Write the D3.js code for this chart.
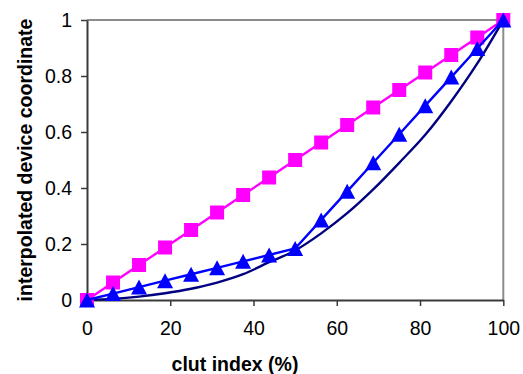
<!DOCTYPE html>
<html><head><meta charset="utf-8">
<script src="https://cdn.jsdelivr.net/npm/d3@7"></script>
<style>
html,body{margin:0;padding:0;background:#fff;}
svg text{font-family:"Liberation Sans",Arial,sans-serif;}
</style></head>
<body>
<svg id="chart" width="523" height="374"></svg>
<script>
// ---- data ----
const xValues = [0, 6.25, 12.5, 18.75, 25, 31.25, 37.5, 43.75, 50, 56.25, 62.5, 68.75, 75, 81.25, 87.5, 93.75, 100];
const linearSeries = [0, 0.0625, 0.125, 0.1875, 0.25, 0.3125, 0.375, 0.4375, 0.5, 0.5625, 0.625, 0.6875, 0.75, 0.8125, 0.875, 0.9375, 1];
const interpSeries = [0, 0.023, 0.046, 0.069, 0.092, 0.115, 0.138, 0.161, 0.184, 0.286, 0.388, 0.49, 0.592, 0.694, 0.796, 0.898, 1];
const curveSeries = [0, 0.004, 0.012, 0.024, 0.04, 0.062, 0.092, 0.135, 0.177, 0.238, 0.31, 0.395, 0.49, 0.59, 0.71, 0.845, 1];
const xTicks = [0, 20, 40, 60, 80, 100];
const yTicks = [0, 0.2, 0.4, 0.6, 0.8, 1];
const yTickLabels = ["0", "0.2", "0.4", "0.6", "0.8", "1"];
const xTitle = "clut index (%)";
const yTitle = "interpolated device coordinate";

// ---- chart ----
(function () {
const svg = d3.select("#chart");
const pL = 87, pR = 503.3, pT = 20, pB = 300;
const x = d3.scaleLinear().domain([0, 100]).range([pL, pR]);
const y = d3.scaleLinear().domain([0, 1]).range([pB, pT]);

// plot frame (top & right in gray)
svg.append("path")
  .attr("d", `M${pL},${pT}H${pR}V${pB}`)
  .attr("fill", "none").attr("stroke", "#8c8c8c").attr("stroke-width", 2);

// axes
const xAxis = svg.append("g").attr("transform", `translate(0,${pB})`)
  .call(d3.axisBottom(x).tickValues(xTicks).tickSize(6).tickSizeOuter(0).tickPadding(15));
const yAxis = svg.append("g").attr("transform", `translate(${pL},0)`)
  .call(d3.axisLeft(y).tickValues(yTicks).tickSize(6).tickSizeOuter(0).tickPadding(9)
    .tickFormat((d, i) => yTickLabels[i]));
[xAxis, yAxis].forEach(g => {
  g.select(".domain").attr("stroke", "#3a3a3a").attr("stroke-width", 2);
  g.selectAll(".tick line").attr("stroke", "#3a3a3a").attr("stroke-width", 1.5);
  g.selectAll(".tick text").attr("fill", "#000").style("font-size", "19.5px")
    .style("font-family", "'Liberation Sans', Arial, sans-serif");
});
yAxis.selectAll(".tick text").attr("dy", "0.35em");
xAxis.selectAll(".tick text").attr("dy", "0.71em");

// titles
svg.append("text").attr("x", 235).attr("y", 371).attr("text-anchor", "middle")
  .style("font-size", "19.5px").style("font-weight", "bold").text(xTitle);
svg.append("text").attr("transform", "translate(32,160) rotate(-90)").attr("text-anchor", "middle")
  .style("font-size", "19.5px").style("font-weight", "bold").text(yTitle);

// series
const curveData = xValues.map((v, i) => [v, curveSeries[i]]);
const linData = xValues.map((v, i) => [v, linearSeries[i]]);
const intData = xValues.map((v, i) => [v, interpSeries[i]]);

const smooth = d3.line().x(d => x(d[0])).y(d => y(d[1])).curve(d3.curveMonotoneX);
const straight = d3.line().x(d => x(d[0])).y(d => y(d[1]));

svg.append("path").attr("d", smooth(curveData)).attr("fill", "none")
  .attr("stroke", "#000080").attr("stroke-width", 2.4);

svg.append("path").attr("d", straight(linData)).attr("fill", "none")
  .attr("stroke", "#ff00ff").attr("stroke-width", 2.4);
const sq = 14;
svg.append("g").selectAll("rect").data(linData).join("rect")
  .attr("x", d => x(d[0]) - sq / 2).attr("y", d => y(d[1]) - sq / 2)
  .attr("width", sq).attr("height", sq).attr("fill", "#ff00ff");

svg.append("path").attr("d", straight(intData)).attr("fill", "none")
  .attr("stroke", "#0000ff").attr("stroke-width", 2.4);
const tw = 16, th = 15;
svg.append("g").selectAll("path").data(intData).join("path")
  .attr("d", d => {
    const cx = x(d[0]), cy = y(d[1]);
    return `M${cx},${cy - th / 2}L${cx + tw / 2},${cy + th / 2}L${cx - tw / 2},${cy + th / 2}Z`;
  })
  .attr("fill", "#0000ff");
})();
</script>
</body></html>
